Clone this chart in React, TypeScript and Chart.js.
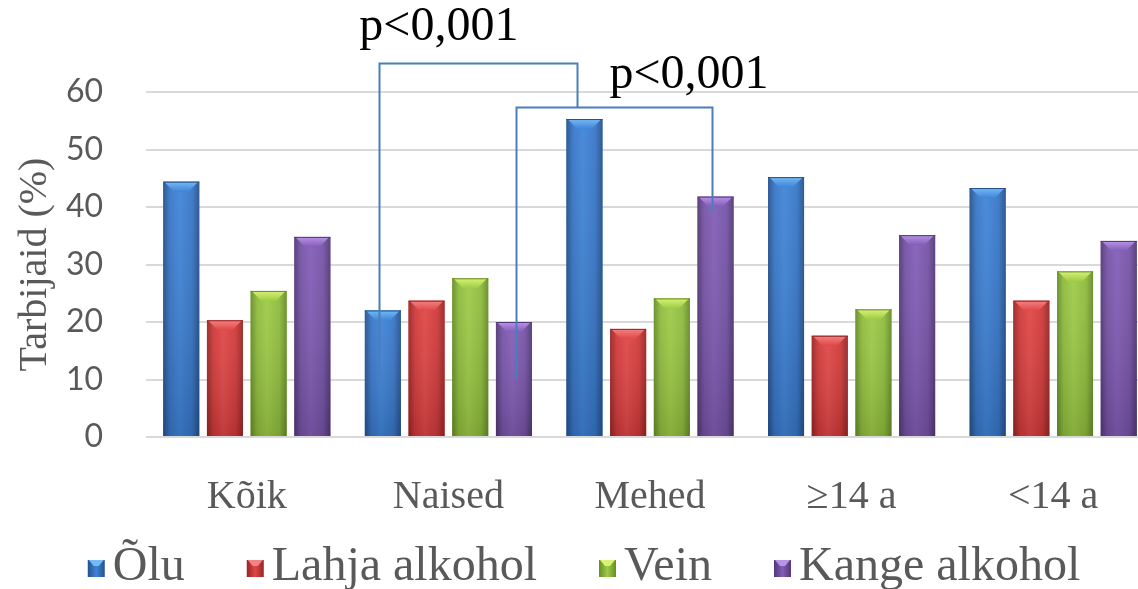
import React, { useEffect, useRef } from "react";
import { Chart, registerables } from "chart.js";

Chart.register(...registerables);

// ---------- data ----------
const categories = ["Kõik", "Naised", "Mehed", "≥14 a", "<14 a"];
const seriesNames = ["Õlu", "Lahja alkohol", "Vein", "Kange alkohol"];
const oluValues = [44.4, 22.0, 55.3, 45.2, 43.3];
const lahjaValues = [20.3, 23.7, 18.8, 17.6, 23.7];
const veinValues = [25.4, 27.6, 24.1, 22.2, 28.8];
const kangeValues = [34.8, 20.0, 41.8, 35.1, 34.1];
const yMin = 0;
const yMax = 60;
const yStep = 10;
const yTitle = "Tarbijaid (%)";

// significance brackets: legs attached to bars (dataset, category), values in axis units
const bracketLabels = ["p<0,001", "p<0,001"];
const bracketLeft = [
  { ds: 0, cat: 1, bottom: 10, shift: -0.1 },
  { ds: 3, cat: 1, bottom: 10, shift: 0.05 },
];
const bracketRight = [
  { ds: 0, cat: 2, bottom: 57.4, shift: -0.2 },
  { ds: 3, cat: 2, bottom: 39.1, shift: -0.1 },
];
const bracketTop = [65, 57.4];
const bracketLabelValue = [69.0, 60.7];
const bracketLabelFrac = [0.3, 0.88];

// ---------- style ----------
const palette = [
  { mid: "#3775c6", edge: "#24518c", light: "#3f84d8", cap: "#74bbf5" },
  { mid: "#cf3838", edge: "#962525", light: "#e04646", cap: "#f28383" },
  { mid: "#8dbb3c", edge: "#668c28", light: "#9dcb46", cap: "#d9f274" },
  { mid: "#7552a5", edge: "#523877", light: "#825db7", cap: "#b993e6" },
];
const textGray = "#595959";
const serif = "'Liberation Serif', 'Times New Roman', serif";

const barStylePlugin = {
  id: "barStyle",
  afterDatasetsDraw(chart: any) {
    const ctx = chart.ctx;
    ctx.save();
    chart.data.datasets.forEach((_: any, i: number) => {
      const meta = chart.getDatasetMeta(i);
      if (meta.hidden) return;
      const c = palette[i];
      meta.data.forEach((bar: any) => {
        const { x, y, base, width } = bar.getProps(["x", "y", "base", "width"], true);
        const x0 = x - width / 2;
        const x1 = x + width / 2;
        const h = base - y;
        const g = ctx.createLinearGradient(x0, 0, x1, 0);
        g.addColorStop(0, c.edge);
        g.addColorStop(0.18, c.mid);
        g.addColorStop(0.45, c.light);
        g.addColorStop(0.8, c.mid);
        g.addColorStop(1, c.edge);
        ctx.fillStyle = g;
        ctx.fillRect(x0, y, width, h);
        const v = ctx.createLinearGradient(0, y, 0, base);
        v.addColorStop(0, "rgba(255,255,255,0.06)");
        v.addColorStop(1, "rgba(0,0,0,0.14)");
        ctx.fillStyle = v;
        ctx.fillRect(x0, y, width, h);
        // top bevel cap
        const capH = Math.min(10, h / 2);
        const cg = ctx.createLinearGradient(0, y, 0, y + capH);
        cg.addColorStop(0, c.cap);
        cg.addColorStop(1, c.light);
        ctx.fillStyle = cg;
        ctx.beginPath();
        ctx.moveTo(x0 + 1, y);
        ctx.lineTo(x1 - 1, y);
        ctx.lineTo(x1 - width * 0.3, y + capH);
        ctx.lineTo(x0 + width * 0.3, y + capH);
        ctx.closePath();
        ctx.fill();
        ctx.fillStyle = c.edge;
        ctx.fillRect(x0, y, width, 1);
      });
    });
    ctx.restore();
  },
};

const bracketPlugin = {
  id: "brackets",
  afterDraw(chart: any) {
    const ctx = chart.ctx;
    const ys = chart.scales.y;
    ctx.save();
    ctx.strokeStyle = "#4a7ebb";
    ctx.lineWidth = 2;
    bracketLabels.forEach((label, i) => {
      const L = bracketLeft[i];
      const R = bracketRight[i];
      const lb = chart.getDatasetMeta(L.ds).data[L.cat];
      const rb = chart.getDatasetMeta(R.ds).data[R.cat];
      const xl = Math.round(lb.x + lb.width * L.shift) + 0.5;
      const xr = Math.round(rb.x + rb.width * R.shift) + 0.5;
      const yt = Math.round(ys.getPixelForValue(bracketTop[i])) + 0.5;
      const ylb = ys.getPixelForValue(L.bottom);
      const yrb = ys.getPixelForValue(R.bottom);
      ctx.beginPath();
      ctx.moveTo(xl, ylb);
      ctx.lineTo(xl, yt);
      ctx.lineTo(xr, yt);
      ctx.lineTo(xr, yrb);
      ctx.stroke();
      ctx.fillStyle = "#000";
      ctx.font = `48px ${serif}`;
      ctx.textAlign = "center";
      ctx.textBaseline = "alphabetic";
      const tx = xl + (xr - xl) * bracketLabelFrac[i];
      ctx.fillText(label, tx, ys.getPixelForValue(bracketLabelValue[i]));
    });
    ctx.restore();
  },
};

const legendPlugin = {
  id: "customLegend",
  afterDraw(chart: any) {
    const ctx = chart.ctx;
    ctx.save();
    ctx.font = `48px ${serif}`;
    const box = 17;
    const gap = 8;
    const itemGap = 62;
    const widths = seriesNames.map((n) => box + gap + ctx.measureText(n).width);
    const total = widths.reduce((a, b) => a + b, 0) + itemGap * (widths.length - 1);
    let x = chart.width / 2 - total / 2;
    const baseline = 580;
    seriesNames.forEach((name, i) => {
      const c = palette[i];
      const by = 560;
      const g = ctx.createLinearGradient(x, 0, x + box, 0);
      g.addColorStop(0, c.edge);
      g.addColorStop(0.5, c.light);
      g.addColorStop(1, c.edge);
      ctx.fillStyle = g;
      ctx.fillRect(x, by, box, box);
      ctx.fillStyle = c.cap;
      ctx.beginPath();
      ctx.moveTo(x + 1, by);
      ctx.lineTo(x + box - 1, by);
      ctx.lineTo(x + box * 0.65, by + 6);
      ctx.lineTo(x + box * 0.35, by + 6);
      ctx.closePath();
      ctx.fill();
      ctx.fillStyle = textGray;
      ctx.textAlign = "left";
      ctx.textBaseline = "alphabetic";
      ctx.fillText(name, x + box + gap, baseline);
      x += widths[i] + itemGap;
    });
    ctx.restore();
  },
};

export default function App() {
  const canvasRef = useRef<HTMLCanvasElement | null>(null);

  useEffect(() => {
    if (!canvasRef.current) return;
    const allValues = [oluValues, lahjaValues, veinValues, kangeValues];
    const chart = new Chart(canvasRef.current, {
      type: "bar",
      data: {
        labels: categories,
        datasets: seriesNames.map((name, i) => ({
          label: name,
          data: allValues[i],
          backgroundColor: palette[i].mid,
          borderWidth: 0,
          categoryPercentage: 0.867,
          barPercentage: 0.824,
        })),
      },
      options: {
        responsive: false,
        animation: false,
        devicePixelRatio: 1,
        layout: { padding: { top: 92, right: 14, bottom: 72, left: 0 } },
        plugins: {
          legend: { display: false },
          tooltip: { enabled: false },
          title: { display: false },
        },
        scales: {
          x: {
            grid: { display: false },
            border: { display: false },
            ticks: {
              color: textGray,
              font: { family: serif, size: 40 },
              padding: 28,
              maxRotation: 0,
            },
            afterFit(scale: any) {
              scale.height = 80;
            },
          },
          y: {
            min: yMin,
            max: yMax,
            border: { display: false },
            grid: { color: "#d9d9d9", lineWidth: 2, drawTicks: false },
            ticks: {
              stepSize: yStep,
              color: textGray,
              font: { family: "Lato, 'Open Sans', sans-serif", size: 32 },
              padding: 43,
            },
            title: {
              display: true,
              text: yTitle,
              color: textGray,
              font: { family: serif, size: 40 },
              padding: { top: 11, bottom: 0 },
            },
            afterFit(scale: any) {
              scale.width = 146;
            },
          },
        },
      },
      plugins: [barStylePlugin, bracketPlugin, legendPlugin],
    });
    return () => chart.destroy();
  }, []);

  return (
    <div
      style={{
        position: "fixed",
        left: 0,
        top: 0,
        width: 1138,
        height: 589,
        overflow: "hidden",
        background: "#fff",
      }}
    >
      <canvas
        ref={canvasRef}
        width={1168}
        height={589}
        style={{ display: "block", width: 1168, height: 589 }}
      />
    </div>
  );
}
